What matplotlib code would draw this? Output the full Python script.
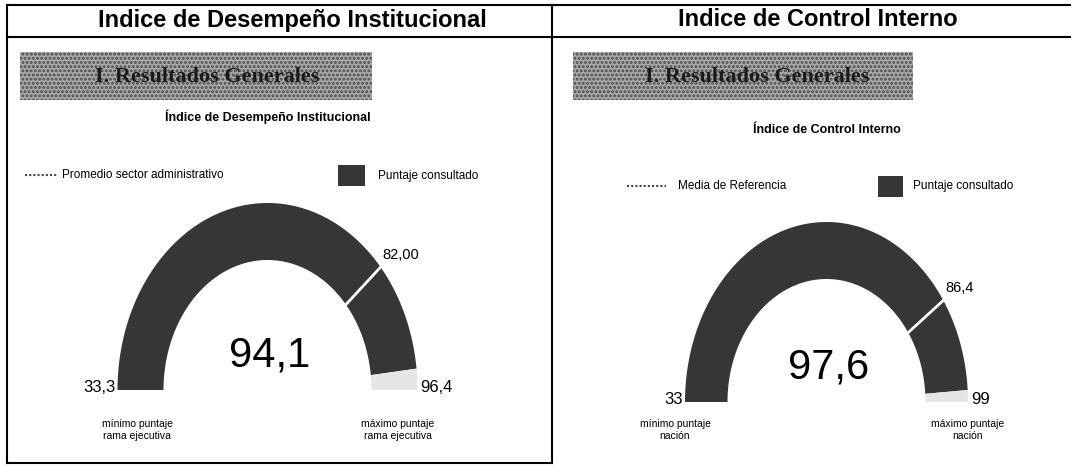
import numpy as np
import matplotlib.pyplot as plt
from matplotlib.patches import Polygon, Rectangle
from matplotlib.lines import Line2D

# datos de los dos indicadores
panel_titles = ["Indice de Desempeño Institucional", "Indice de Control Interno"]
chart_titles = ["Índice de Desempeño Institucional", "Índice de Control Interno"]
ref_names = ["Promedio sector administrativo", "Media de Referencia"]
scores = [94.1, 97.6]
refs = [82.00, 86.4]
mins = [33.3, 33]
maxs = [96.4, 99]
score_labels = ["94,1", "97,6"]
ref_labels = ["82,00", "86,4"]
min_labels = ["33,3", "33"]
max_labels = ["96,4", "99"]
min_texts = ["mínimo puntaje\nrama ejecutiva", "mínimo puntaje\nnación"]
max_texts = ["máximo puntaje\nrama ejecutiva", "máximo puntaje\nnación"]

# posiciones (pixeles) de cada panel
layout = [
    dict(title_x=292, box=(20, 52, 352, 48), box_tx=95, sub_y=117, leg_y=175,
         leg_line=(25, 58), leg_tx=62, sq=(338, 165, 27, 21), sq_tx=378,
         cx=267.5, cy=390, rx=(104, 150), ry=(130, 187), minlab_x=137, maxlab_x=398),
    dict(title_x=818, box=(573, 52, 340, 48), box_tx=645, sub_y=130, leg_y=186,
         leg_line=(627, 666), leg_tx=678, sq=(878, 176, 25, 21), sq_tx=913,
         cx=826.5, cy=402, rx=(99, 141.5), ry=(123, 180), minlab_x=675, maxlab_x=968),
]

DARK = '#363636'
LIGHT = '#e6e6e6'
small = ['Liberation Sans Narrow', 'Liberation Sans']


def angle(v, vmin, vmax):
    return np.pi * (1 - (v - vmin) / (vmax - vmin))


def band(ax, L, a0, a1, color):
    t = np.linspace(a0, a1, 120)
    xo = L['cx'] + L['rx'][1] * np.cos(t)
    yo = L['cy'] - L['ry'][1] * np.sin(t)
    xi = L['cx'] + L['rx'][0] * np.cos(t[::-1])
    yi = L['cy'] - L['ry'][0] * np.sin(t[::-1])
    pts = np.column_stack([np.r_[xo, xi], np.r_[yo, yi]])
    ax.add_patch(Polygon(pts, closed=True, facecolor=color, edgecolor='none'))


plt.rcParams['hatch.linewidth'] = 1.4
fig = plt.figure(figsize=(10.71, 4.66), dpi=100)
ax = fig.add_axes([0, 0, 1, 1])
ax.set_xlim(0, 1071)
ax.set_ylim(466, 0)
ax.axis('off')

# marco
ax.plot([7, 1071], [5, 5], color='black', lw=1.5)
ax.plot([7, 1071], [37, 37], color='black', lw=1.5)
ax.plot([7, 7], [5, 463], color='black', lw=1.5)
ax.plot([552, 552], [5, 463], color='black', lw=1.5)
ax.plot([7, 552], [463, 463], color='black', lw=1.5)

for i, L in enumerate(layout):
    ax.text(L['title_x'], 20, panel_titles[i], ha='center', va='center',
            fontsize=17, fontweight='bold', family='Liberation Sans')

    bx, by, bw, bh = L['box']
    ax.add_patch(Rectangle((bx, by), bw, bh, facecolor='#a8a8a8',
                           edgecolor='#4a4a4a', hatch='....', lw=0))
    ax.text(L['box_tx'], by + bh / 2 + 1, "I. Resultados Generales", ha='left',
            va='center', fontsize=16, fontweight='bold', family='Liberation Serif',
            color='#1a1a1a')

    ax.text(L['cx'], L['sub_y'], chart_titles[i], ha='center', va='center',
            fontsize=9, fontweight='bold', family=small)

    # leyenda
    ax.add_line(Line2D(L['leg_line'], [L['leg_y'], L['leg_y']], color='#444',
                       lw=1.5, ls=(0, (1, 1))))
    ax.text(L['leg_tx'], L['leg_y'], ref_names[i], ha='left', va='center',
            fontsize=8.5, family=small)
    sx, sy, sw, sh = L['sq']
    ax.add_patch(Rectangle((sx, sy), sw, sh, facecolor=DARK, edgecolor='none'))
    ax.text(L['sq_tx'], sy + sh / 2, "Puntaje consultado", ha='left', va='center',
            fontsize=8.5, family=small)

    # medidor
    a_val = angle(scores[i], mins[i], maxs[i])
    band(ax, L, np.pi, a_val, DARK)
    band(ax, L, a_val, 0, LIGHT)
    a_ref = angle(refs[i], mins[i], maxs[i])
    ax.plot([L['cx'] + L['rx'][0] * np.cos(a_ref), L['cx'] + L['rx'][1] * np.cos(a_ref)],
            [L['cy'] - L['ry'][0] * np.sin(a_ref), L['cy'] - L['ry'][1] * np.sin(a_ref)],
            color='white', lw=2)
    ax.text(L['cx'] + L['rx'][1] * np.cos(a_ref) + 2, L['cy'] - L['ry'][1] * np.sin(a_ref) - 12,
            ref_labels[i], ha='left', va='center', fontsize=10.5, family=small)

    ax.text(L['cx'] + 2, L['cy'] - 35, score_labels[i], ha='center', va='center',
            fontsize=30, family='Liberation Sans')
    ax.text(L['cx'] - L['rx'][1] - 2, L['cy'] - 3, min_labels[i], ha='right',
            va='center', fontsize=12, family='Liberation Sans')
    ax.text(L['cx'] + L['rx'][1] + 3, L['cy'] - 2, max_labels[i], ha='left',
            va='center', fontsize=12, family='Liberation Sans')
    ax.text(L['minlab_x'], 430, min_texts[i], ha='center', va='center',
            fontsize=7.5, family=small, linespacing=1.3)
    ax.text(L['maxlab_x'], 430, max_texts[i], ha='center', va='center',
            fontsize=7.5, family=small, linespacing=1.3)

fig.savefig('out.png', dpi=100)
